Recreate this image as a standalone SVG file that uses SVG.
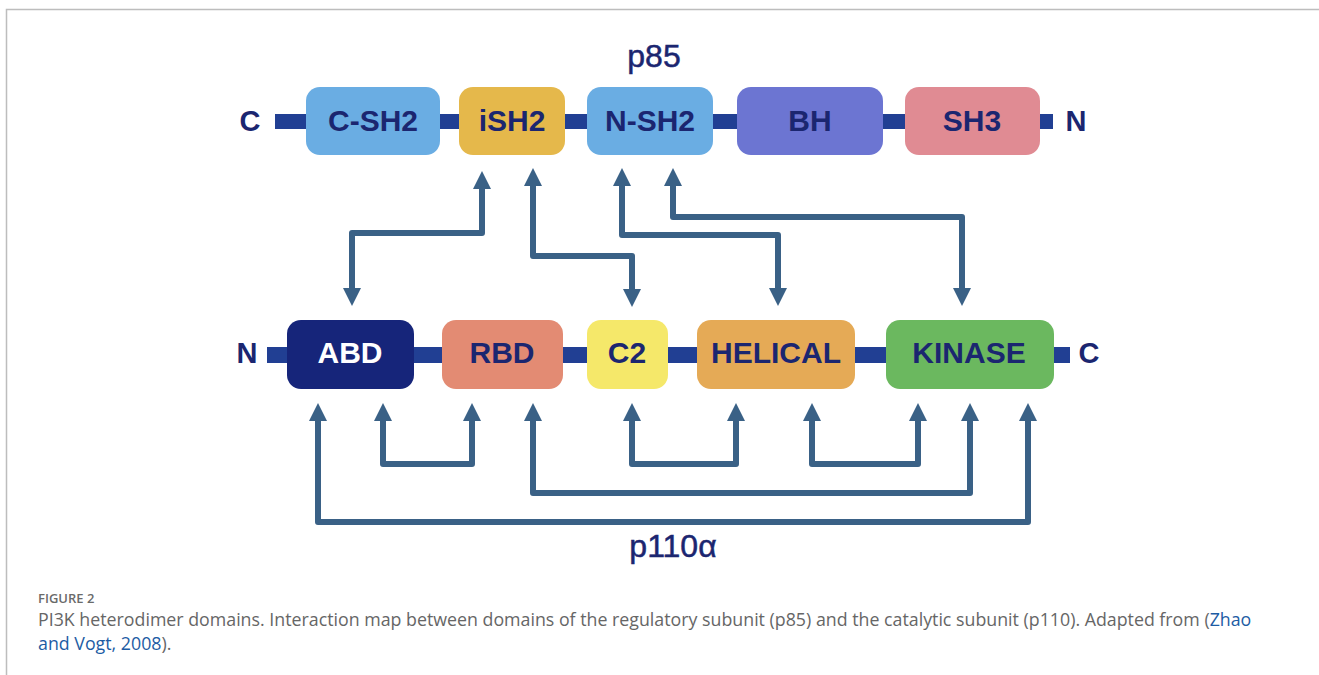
<svg xmlns="http://www.w3.org/2000/svg" width="1319" height="675" viewBox="0 0 1319 675">
<style>
.bb{fill:#213f93}
.box{stroke:none}
.lbl{font-family:"Liberation Sans",Arial,sans-serif;font-weight:bold;font-size:30px;fill:#1b2670;text-anchor:middle}
.end{font-family:"Liberation Sans",Arial,sans-serif;font-weight:bold;font-size:29px;fill:#1b2670;text-anchor:middle}
.title{font-family:"Liberation Sans",Arial,sans-serif;font-size:32px;fill:#1b2670;text-anchor:middle;stroke:#1b2670;stroke-width:0.5}
.conn{fill:none;stroke:#3a6186;stroke-width:6;stroke-linejoin:round;marker-start:url(#ah);marker-end:url(#ah)}
.cap{font-family:"Open Sans","Liberation Sans",sans-serif;font-size:17.8px;fill:#666666}
.ref{fill:#1d5ca4}
</style>
<defs>
<marker id="ah" viewBox="0 0 18 18" refX="1" refY="9" markerWidth="18" markerHeight="18" markerUnits="userSpaceOnUse" orient="auto-start-reverse">
<path d="M0,0 L18,9 L0,18 z" fill="#3a6186"/>
</marker>
</defs>
<rect x="0" y="0" width="1319" height="675" fill="#ffffff"/>
<path d="M6.5,675 V9.5 H1319" fill="none" stroke="#bdbdbd" stroke-width="1.5"/>

<text class="title" x="654" y="67">p85</text>
<rect class="bb" x="275" y="114" width="778" height="15"/>
<text class="end" x="250" y="131">C</text>
<text class="end" x="1076" y="131">N</text>
<g id="CSH2"><rect class="box" x="306" y="87" width="134" height="68" rx="14" fill="#6aade3"/><text class="lbl" x="373" y="131">C-SH2</text></g>
<g id="iSH2"><rect class="box" x="459" y="87" width="106" height="68" rx="14" fill="#e5b84b"/><text class="lbl" x="512" y="131">iSH2</text></g>
<g id="NSH2"><rect class="box" x="587" y="87" width="126" height="68" rx="14" fill="#6aade3"/><text class="lbl" x="650" y="131">N-SH2</text></g>
<g id="BH"><rect class="box" x="737" y="87" width="146" height="68" rx="14" fill="#6c75d2"/><text class="lbl" x="810" y="131">BH</text></g>
<g id="SH3"><rect class="box" x="905" y="87" width="135" height="68" rx="14" fill="#e08b93"/><text class="lbl" x="972" y="131">SH3</text></g>

<rect class="bb" x="267" y="347" width="803" height="16"/>
<text class="end" x="247" y="363">N</text>
<text class="end" x="1089" y="363">C</text>
<g id="ABD"><rect class="box" x="287" y="320" width="127" height="69" rx="14" fill="#16257a"/><text class="lbl" x="350" y="363" style="fill:#ffffff">ABD</text></g>
<g id="RBD"><rect class="box" x="442" y="320" width="121" height="69" rx="14" fill="#e38b73"/><text class="lbl" x="502" y="363">RBD</text></g>
<g id="C2"><rect class="box" x="587" y="320" width="81" height="69" rx="14" fill="#f5e86a"/><text class="lbl" x="627" y="363">C2</text></g>
<g id="HELICAL"><rect class="box" x="697" y="320" width="158" height="69" rx="14" fill="#e5aa56"/><text class="lbl" x="776" y="363">HELICAL</text></g>
<g id="KINASE"><rect class="box" x="886" y="320" width="168" height="69" rx="14" fill="#6bb85f"/><text class="lbl" x="969" y="363">KINASE</text></g>

<g id="connectors">
<path class="conn" d="M482,188 V233 H352 V289"/>
<path class="conn" d="M533,185 V256 H632 V290"/>
<path class="conn" d="M622,185 V235 H778 V289"/>
<path class="conn" d="M673,185 V217 H962 V289"/>
<path class="conn" d="M318,420 V522 H1028 V420"/>
<path class="conn" d="M383,420 V464 H472 V420"/>
<path class="conn" d="M533,420 V493 H970 V420"/>
<path class="conn" d="M632,420 V464 H736 V420"/>
<path class="conn" d="M812,420 V464 H918 V420"/>
</g>

<text class="title" x="673" y="557">p110α</text>

<text x="38" y="603" style="font-family:'Open Sans','Liberation Sans',sans-serif;font-size:13px;font-weight:600;fill:#6a6a6a">FIGURE 2</text>
<text class="cap" x="38" y="626">PI3K heterodimer domains. Interaction map between domains of the regulatory subunit (p85) and the catalytic subunit (p110). Adapted from (<tspan class="ref">Zhao</tspan></text>
<text class="cap" x="38" y="650"><tspan class="ref">and Vogt, 2008</tspan>).</text>
</svg>
